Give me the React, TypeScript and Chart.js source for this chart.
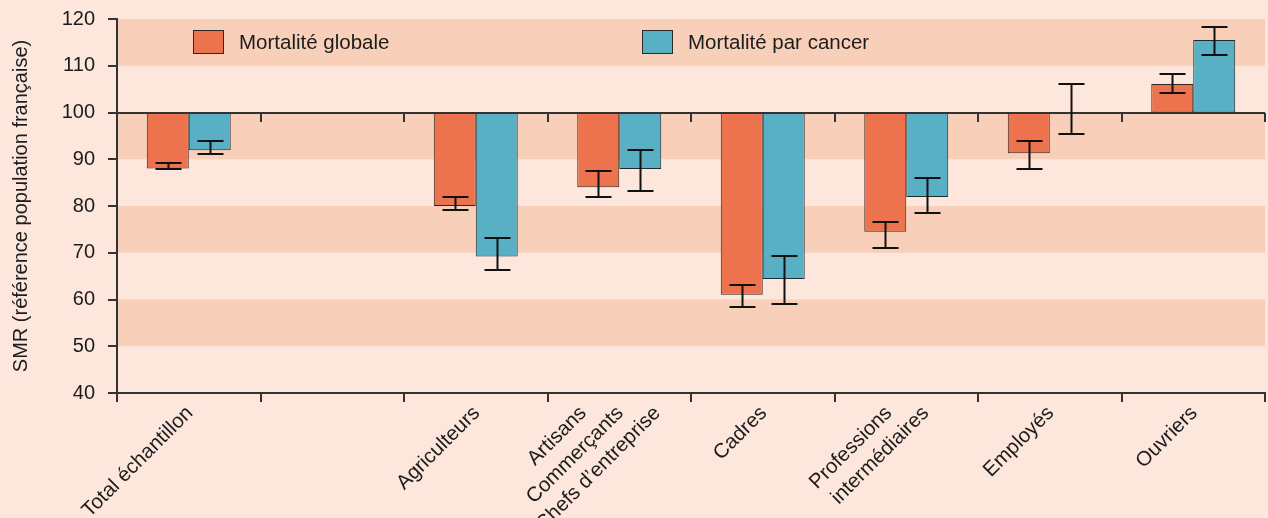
import { useEffect, useRef } from "react";
import { Chart, registerables } from "chart.js";

Chart.register(...registerables);

// Socio-professional categories (the second slot is intentionally left empty)
const categories: (string | string[])[] = [
  "Total échantillon",
  "",
  "Agriculteurs",
  ["Artisans", "Commerçants", "Chefs d’entreprise"],
  "Cadres",
  ["Professions", "intermédiaires"],
  "Employés",
  "Ouvriers",
];

const seriesNames = ["Mortalité globale", "Mortalité par cancer"];

// SMR values (reference = 100) and their confidence intervals
const globalSMR = [88.0, null, 80.0, 84.0, 61.0, 74.5, 91.3, 106.1];
const globalLow = [87.9, null, 79.2, 81.9, 58.4, 71.0, 87.9, 104.1];
const globalHigh = [89.2, null, 81.9, 87.4, 63.1, 76.5, 94.0, 108.2];

const cancerSMR = [91.9, null, 69.2, 87.9, 64.4, 81.9, 100, 115.5];
const cancerLow = [91.2, null, 66.4, 83.3, 59.1, 78.5, 95.3, 112.2];
const cancerHigh = [93.9, null, 73.2, 92.0, 69.2, 85.9, 106.2, 118.2];

const referenceValue = 100;
const yMin = 40;
const yMax = 120;
const yStep = 10;
const shadedBands: [number, number][] = [
  [50, 60],
  [70, 80],
  [90, 100],
  [110, 120],
];

const FONT = '"Liberation Sans", Arial, sans-serif';
const BG = "#FDE6DC";
const BAND = "#F8D0BA";
const INK = "#1c1c1c";
const AXIS = "#333333";
const COLORS = ["#EC734D", "#59B0C4"];

const bandsPlugin = {
  id: "bands",
  beforeDraw(chart: any) {
    const { ctx, chartArea } = chart;
    const y = chart.scales.y;
    ctx.save();
    ctx.fillStyle = BAND;
    for (const [a, b] of shadedBands) {
      const top = y.getPixelForValue(b);
      const bot = y.getPixelForValue(a);
      ctx.fillRect(chartArea.left, top, chartArea.right - chartArea.left, bot - top);
    }
    ctx.restore();
  },
};

const referenceLinePlugin = {
  id: "referenceLine",
  afterDatasetsDraw(chart: any) {
    const { ctx, chartArea } = chart;
    const yPix = Math.round(chart.scales.y.getPixelForValue(referenceValue));
    const n = chart.data.labels.length;
    const step = (chartArea.right - chartArea.left) / n;
    ctx.save();
    ctx.strokeStyle = AXIS;
    ctx.lineWidth = 2;
    ctx.beginPath();
    ctx.moveTo(chartArea.left, yPix);
    ctx.lineTo(chartArea.right, yPix);
    for (let i = 1; i <= n; i++) {
      const x = Math.round(chartArea.left + i * step);
      ctx.moveTo(x, yPix);
      ctx.lineTo(x, yPix + 9);
    }
    ctx.stroke();
    ctx.restore();
  },
};

const errorBarsPlugin = {
  id: "errorBars",
  afterDatasetsDraw(chart: any) {
    const { ctx } = chart;
    const y = chart.scales.y;
    ctx.save();
    ctx.strokeStyle = "#111";
    ctx.lineWidth = 2;
    chart.data.datasets.forEach((ds: any, di: number) => {
      const meta = chart.getDatasetMeta(di);
      meta.data.forEach((bar: any, i: number) => {
        const lo = ds.errLow[i];
        const hi = ds.errHigh[i];
        if (lo == null || hi == null || !isFinite(bar.x)) return;
        const x = Math.round(bar.x) + 0.5;
        const yl = Math.round(y.getPixelForValue(lo));
        const yh = Math.round(y.getPixelForValue(hi));
        const half = 13;
        ctx.beginPath();
        ctx.moveTo(x, yl);
        ctx.lineTo(x, yh);
        ctx.moveTo(x - half, yl);
        ctx.lineTo(x + half, yl);
        ctx.moveTo(x - half, yh);
        ctx.lineTo(x + half, yh);
        ctx.stroke();
      });
    });
    ctx.restore();
  },
};

const legendPlugin = {
  id: "insideLegend",
  afterDraw(chart: any) {
    const { ctx, chartArea } = chart;
    const offsets = [76, 525];
    ctx.save();
    ctx.font = `20.5px ${FONT}`;
    ctx.textBaseline = "middle";
    ctx.textAlign = "left";
    chart.data.datasets.forEach((ds: any, i: number) => {
      const x = chartArea.left + offsets[i];
      const top = chartArea.top + 11;
      ctx.fillStyle = ds.backgroundColor;
      ctx.fillRect(x, top, 30, 23);
      ctx.strokeStyle = "#2a2a2a";
      ctx.lineWidth = 1;
      ctx.strokeRect(x + 0.5, top + 0.5, 30, 23);
      ctx.fillStyle = INK;
      ctx.fillText(ds.label, x + 46, top + 13.5);
    });
    ctx.restore();
  },
};

const xLabelsPlugin = {
  id: "xLabels",
  afterDraw(chart: any) {
    const { ctx, chartArea } = chart;
    const xs = chart.scales.x;
    const lineShift = 37;
    ctx.save();
    ctx.font = `20.5px ${FONT}`;
    ctx.fillStyle = INK;
    ctx.textAlign = "right";
    ctx.textBaseline = "middle";
    chart.data.labels.forEach((lab: any, i: number) => {
      const lines: string[] = Array.isArray(lab) ? lab : [lab];
      const cx = xs.getPixelForValue(i);
      lines.forEach((line, k) => {
        if (!line) return;
        const px = cx + 1 + (k - (lines.length - 1) / 2) * lineShift;
        const py = chartArea.bottom + 17;
        ctx.save();
        ctx.translate(px, py);
        ctx.rotate(-Math.PI / 4);
        ctx.fillText(line, 0, 0);
        ctx.restore();
      });
    });
    ctx.restore();
  },
};

export default function App() {
  const canvasRef = useRef<HTMLCanvasElement | null>(null);

  useEffect(() => {
    document.body.style.margin = "0";
    document.body.style.background = BG;
    const canvas = canvasRef.current;
    if (!canvas) return;

    const toRange = (vals: (number | null)[]) =>
      vals.map((v) => (v == null ? null : [referenceValue, v]));

    const chart = new Chart(canvas, {
      type: "bar",
      data: {
        labels: categories as any,
        datasets: [
          {
            label: seriesNames[0],
            data: toRange(globalSMR) as any,
            backgroundColor: COLORS[0],
            borderColor: "#2e2420",
            borderWidth: 1,
            borderSkipped: false,
            errLow: globalLow,
            errHigh: globalHigh,
          } as any,
          {
            label: seriesNames[1],
            data: toRange(cancerSMR) as any,
            backgroundColor: COLORS[1],
            borderColor: "#1f2a2e",
            borderWidth: 1,
            borderSkipped: false,
            errLow: cancerLow,
            errHigh: cancerHigh,
          } as any,
        ],
      },
      options: {
        responsive: false,
        animation: false,
        layout: { padding: { top: 19, right: 3, bottom: 0, left: 0 } },
        datasets: {
          bar: { categoryPercentage: 0.585, barPercentage: 1.0 },
        },
        plugins: {
          legend: { display: false },
          tooltip: { enabled: false },
        },
        scales: {
          x: {
            type: "category",
            offset: true,
            grid: {
              offset: true,
              drawOnChartArea: false,
              drawTicks: true,
              tickLength: 9,
              color: AXIS,
              lineWidth: 2,
            },
            border: { display: true, color: AXIS, width: 2 },
            ticks: { display: false },
            afterFit: (scale: any) => {
              scale.height = 125;
              scale.paddingLeft = 0;
              scale.paddingRight = 0;
            },
          },
          y: {
            min: yMin,
            max: yMax,
            ticks: {
              stepSize: yStep,
              color: INK,
              font: { family: FONT, size: 20 },
              padding: 13,
            },
            grid: {
              drawOnChartArea: false,
              drawTicks: true,
              tickLength: 9,
              color: AXIS,
              lineWidth: 2,
            },
            border: { display: true, color: AXIS, width: 2 },
            title: {
              display: true,
              text: "SMR (référence population française)",
              color: INK,
              font: { family: FONT, size: 20 },
              padding: { top: 9, bottom: 0 },
            },
            afterFit: (scale: any) => {
              scale.width = 117;
              scale.paddingTop = 0;
              scale.paddingBottom = 0;
            },
          },
        },
      },
      plugins: [bandsPlugin, referenceLinePlugin, errorBarsPlugin, legendPlugin, xLabelsPlugin],
    });

    return () => chart.destroy();
  }, []);

  return (
    <div style={{ width: 1268, height: 518, background: BG, overflow: "hidden" }}>
      <canvas ref={canvasRef} width={1268} height={518} style={{ display: "block" }} />
    </div>
  );
}
